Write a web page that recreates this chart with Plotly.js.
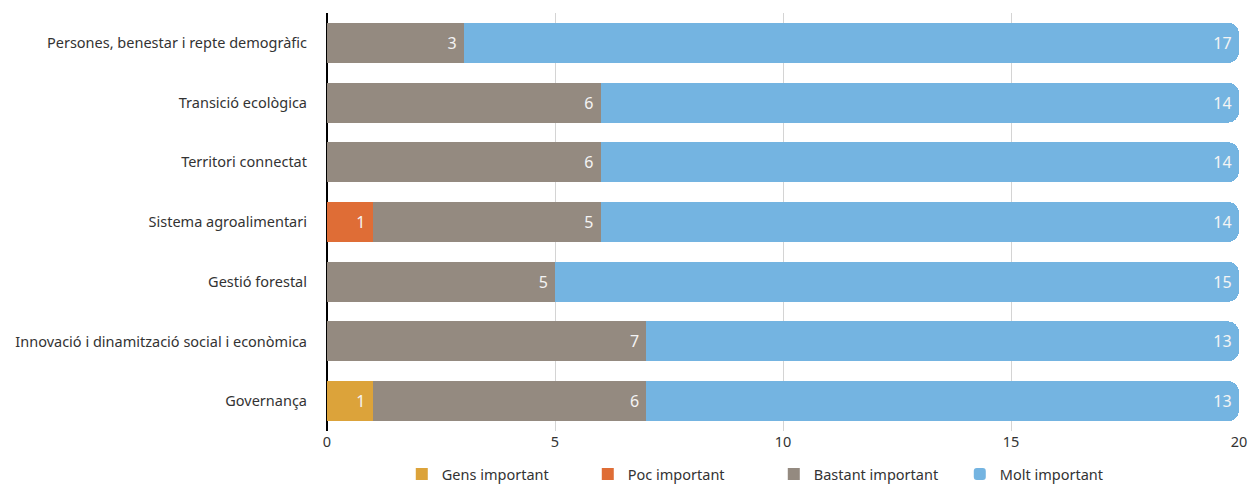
<!DOCTYPE html>
<html>
<head>
<meta charset="utf-8">
<script src="https://cdn.plot.ly/plotly-3.0.1.min.js"></script>
<style>html,body{margin:0;padding:0;background:#fff;}#chart{width:1248px;height:490px;}</style>
</head>
<body>
<div id="chart"></div>
<script>
const categories = [
  "Persones, benestar i repte demogràfic",
  "Transició ecològica",
  "Territori connectat",
  "Sistema agroalimentari",
  "Gestió forestal",
  "Innovació i dinamització social i econòmica",
  "Governança"
];
const gensImportant = [null, null, null, null, null, null, 1];
const pocImportant = [null, null, null, 1, null, null, null];
const bastantImportant = [3, 6, 6, 5, 5, 7, 6];
const moltImportant = [17, 14, 14, 14, 15, 13, 13];
const seriesNames = ["Gens important", "Poc important", "Bastant important", "Molt important"];
const seriesColors = ["#DCA33A", "#DF6D36", "#948A80", "#74B4E1"];
const xTicks = [0, 5, 10, 15, 20];

const allSeries = [gensImportant, pocImportant, bastantImportant, moltImportant];
const FONT = "Noto Sans, sans-serif";

const traces = allSeries.map((vals, i) => {
  const t = {
    type: "bar",
    orientation: "h",
    name: seriesNames[i],
    y: categories,
    x: vals,
    text: vals.map(v => v == null ? "" : String(v) + "\u00a0"),
    textposition: "inside",
    insidetextanchor: "end",
    textfont: {family: FONT, size: 16, color: "#f4f4f4"},
    marker: {color: seriesColors[i], line: {width: 0}},
    hoverinfo: "x+y+name"
  };
  if (i === 3) t.marker.cornerradius = 11;
  return t;
});

const layout = {
  width: 1248,
  height: 490,
  margin: {l: 327, r: 9, t: 13, b: 59, autoexpand: false},
  barmode: "stack",
  bargap: 0.33,
  paper_bgcolor: "#ffffff",
  plot_bgcolor: "#ffffff",
  font: {family: FONT, size: 14.5, color: "#333333"},
  showlegend: true,
  legend: {
    orientation: "h",
    x: 0.082, xanchor: "left",
    yref: "container",
    y: 0, yanchor: "bottom",
    font: {family: FONT, size: 14.5, color: "#333333"},
    traceorder: "normal",
    itemwidth: 30,
    entrywidth: 141,
    entrywidthmode: "pixels",
    itemsizing: "constant"
  },
  xaxis: {
    range: [0, 20],
    tickvals: xTicks,
    ticktext: xTicks.map(String),
    showgrid: true,
    gridcolor: "rgba(0,0,0,0.17)",
    gridwidth: 1,
    zeroline: true,
    zerolinecolor: "#000000",
    zerolinewidth: 2,
    showline: false,
    ticks: "",
    layer: "above traces",
    tickfont: {family: FONT, size: 14.5, color: "#333333"},
    fixedrange: true
  },
  yaxis: {
    type: "category",
    autorange: "reversed",
    showgrid: false,
    zeroline: false,
    showline: false,
    ticks: "",
    ticklabelstandoff: 19,
    tickfont: {family: FONT, size: 14.5, color: "#333333"},
    fixedrange: true
  }
};

Plotly.newPlot("chart", traces, layout, {displayModeBar: false, staticPlot: true});
</script>
</body>
</html>
